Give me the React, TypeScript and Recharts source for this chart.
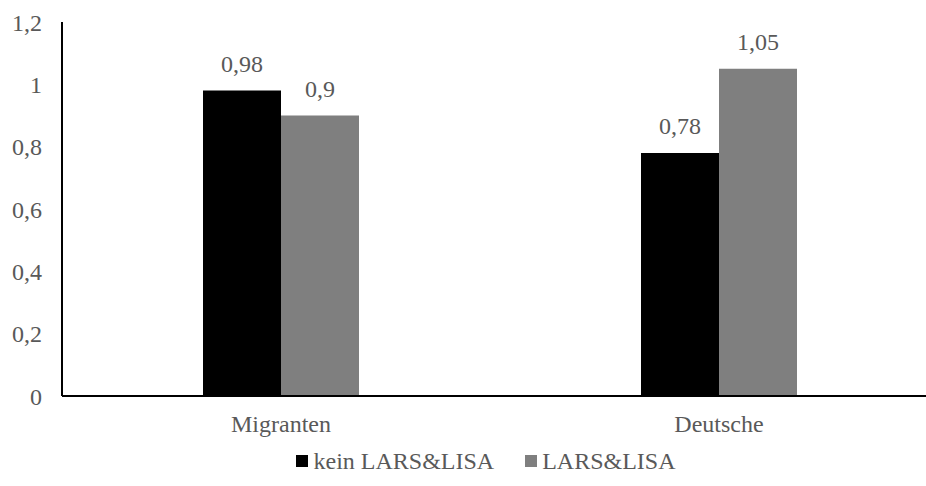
import React from "react";
import { BarChart, Bar, XAxis, YAxis, Legend, LabelList } from "recharts";

const categories = ["Migranten", "Deutsche"];
const keinValues = [0.98, 0.78];
const larsValues = [0.9, 1.05];
const yTicks = [0, 0.2, 0.4, 0.6, 0.8, 1, 1.2];

const seriesNames = ["kein LARS&LISA", "LARS&LISA"];
const seriesColors = ["#000000", "#7f7f7f"];

const data = categories.map((name, i) => ({
  name,
  kein: keinValues[i],
  lars: larsValues[i],
}));

const textColor = "#595959";
const font = "'Liberation Serif', 'DejaVu Serif', serif";

const fmt = (v: number | string) => String(v).replace(".", ",");

const LegendContent = () => (
  <div
    style={{
      display: "flex",
      justifyContent: "center",
      alignItems: "center",
      height: 50,
      fontFamily: font,
      fontSize: 24,
      color: textColor,
      paddingLeft: 34,
    }}
  >
    {seriesNames.map((n, i) => (
      <div
        key={n}
        style={{ display: "flex", alignItems: "center", marginRight: i === 0 ? 31 : 0 }}
      >
        <span
          style={{
            display: "inline-block",
            width: 12,
            height: 12,
            background: seriesColors[i],
            marginRight: 5,
          }}
        />
        <span>{n}</span>
      </div>
    ))}
  </div>
);

const App = () => {
  return (
    <div style={{ width: 926, height: 486, overflow: "hidden", background: "#fff" }}>
      <style>{`html, body { margin: 0; padding: 0; overflow: hidden; }`}</style>
      <BarChart
        width={940}
        height={486}
        data={data}
        margin={{ top: 22, right: 2, bottom: 0, left: 0 }}
        barGap={0}
        barSize={78}
        style={{ fontFamily: font }}
      >
        <XAxis
          dataKey="name"
          axisLine={{ stroke: "#000", strokeWidth: 2 }}
          tickLine={false}
          tickSize={0}
          tickMargin={19}
          height={40}
          tick={{ fill: textColor, fontSize: 24, fontFamily: font }}
        />
        <YAxis
          domain={[0, 1.2]}
          ticks={yTicks}
          width={62}
          axisLine={{ stroke: "#000", strokeWidth: 2 }}
          tickLine={false}
          tickSize={0}
          tickMargin={20}
          tickFormatter={fmt}
          tick={{ fill: textColor, fontSize: 24, fontFamily: font }}
        />
        <Legend verticalAlign="bottom" content={<LegendContent />} />
        <Bar dataKey="kein" fill={seriesColors[0]} isAnimationActive={false}>
          <LabelList
            dataKey="kein"
            position="top"
            offset={19}
            formatter={fmt}
            fill={textColor}
            fontSize={24}
            fontFamily={font}
          />
        </Bar>
        <Bar dataKey="lars" fill={seriesColors[1]} isAnimationActive={false}>
          <LabelList
            dataKey="lars"
            position="top"
            offset={19}
            formatter={fmt}
            fill={textColor}
            fontSize={24}
            fontFamily={font}
          />
        </Bar>
      </BarChart>
    </div>
  );
};

export default App;
